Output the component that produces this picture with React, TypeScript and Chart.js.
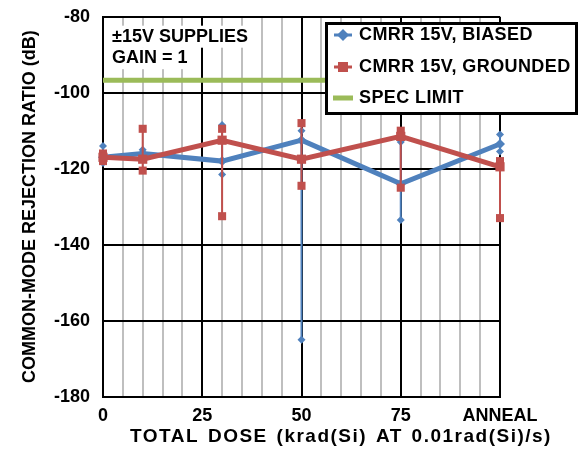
import React, { useEffect, useRef } from "react";
import { Chart, registerables } from "chart.js";

Chart.register(...registerables);

const DOSE = [0, 10, 30, 50, 75, 100];
const X_TICK_LABELS: Record<number, string> = { 0: "0", 25: "25", 50: "50", 75: "75", 100: "ANNEAL" };

const BIASED_MEAN = [-117, -116, -118, -112.5, -124, -113.5];
const BIASED_MAX = [-114, -115, -108.5, -110, -113, -111];
const BIASED_MIN = [-118.5, -117.5, -121.5, -165, -133.5, -115.5];

const GROUNDED_MEAN = [-117, -117.5, -112.5, -117.5, -111.5, -119.5];
const GROUNDED_MAX = [-116, -109.5, -109.5, -108, -110, -118];
const GROUNDED_MIN = [-118, -120.5, -132.5, -124.5, -125, -133];

const SPEC_LIMIT = -96.7;

const SERIES_NAMES = ["CMRR 15V, BIASED", "CMRR 15V, GROUNDED", "SPEC LIMIT"];
const NOTE_LINES = ["±15V SUPPLIES", "GAIN = 1"];
const X_TITLE = "TOTAL DOSE (krad(Si) AT 0.01rad(Si)/s)";
const Y_TITLE = "COMMON-MODE REJECTION RATIO (dB)";

const BLUE = "#4F81BD";
const RED = "#C0504D";
const GREEN = "#9BBB59";
const FONT = "bold 18px 'Liberation Sans', Arial, sans-serif";

function errorBars(mins: number[], maxs: number[]) {
  const pts: { x: number; y: number | null }[] = [];
  DOSE.forEach((x, i) => {
    pts.push({ x, y: maxs[i] }, { x, y: mins[i] });
    if (i < DOSE.length - 1) pts.push({ x, y: null });
  });
  return pts;
}

const overlayPlugin = {
  id: "overlay",
  afterDraw(chart: any) {
    const ctx = chart.ctx as CanvasRenderingContext2D;
    const area = chart.chartArea;
    ctx.save();
    ctx.font = FONT;
    ctx.textBaseline = "middle";
    ctx.textAlign = "left";

    // note text with white background
    const noteX = area.left + 9;
    const noteYs = [area.top + 20, area.top + 41.5];
    NOTE_LINES.forEach((t, i) => {
      const w = ctx.measureText(t).width;
      ctx.fillStyle = "#fff";
      ctx.fillRect(noteX - 3, noteYs[i] - 11, w + 6, 22);
    });
    ctx.fillStyle = "#000";
    NOTE_LINES.forEach((t, i) => ctx.fillText(t, noteX, noteYs[i]));

    // x axis title
    ctx.save();
    ctx.font = "bold 19px 'Liberation Sans', Arial, sans-serif";
    (ctx as any).letterSpacing = "1.5px";
    (ctx as any).wordSpacing = "2px";
    ctx.textAlign = "center";
    ctx.fillText(X_TITLE, 341, 437);
    ctx.restore();

    // legend
    const lx = 325, ly = 22, lw = 253, lh = 93;
    ctx.fillStyle = "#fff";
    ctx.fillRect(lx, ly, lw, lh);
    ctx.strokeStyle = "#000";
    ctx.lineWidth = 3;
    ctx.strokeRect(lx + 1.5, ly + 1.5, lw - 3, lh - 3);
    const rows = [35, 67, 98];
    const sx = 343;
    // blue
    ctx.strokeStyle = BLUE;
    ctx.lineWidth = 3;
    ctx.beginPath();
    ctx.moveTo(sx - 9, rows[0]);
    ctx.lineTo(sx + 9, rows[0]);
    ctx.stroke();
    ctx.fillStyle = BLUE;
    ctx.beginPath();
    ctx.moveTo(sx, rows[0] - 6);
    ctx.lineTo(sx + 6, rows[0]);
    ctx.lineTo(sx, rows[0] + 6);
    ctx.lineTo(sx - 6, rows[0]);
    ctx.closePath();
    ctx.fill();
    // red
    ctx.strokeStyle = RED;
    ctx.beginPath();
    ctx.moveTo(sx - 9, rows[1]);
    ctx.lineTo(sx + 9, rows[1]);
    ctx.stroke();
    ctx.fillStyle = RED;
    ctx.fillRect(sx - 5, rows[1] - 5, 10, 10);
    // green
    ctx.fillStyle = GREEN;
    ctx.fillRect(sx - 10, rows[2] - 2.5, 20, 5);

    ctx.fillStyle = "#000";
    ctx.textAlign = "left";
    (ctx as any).letterSpacing = "0.4px";
    SERIES_NAMES.forEach((t, i) => ctx.fillText(t, 359, rows[i]));
    ctx.restore();
  },
};

export default function App() {
  const ref = useRef<HTMLCanvasElement>(null);

  useEffect(() => {
    if (!ref.current) return;
    Chart.defaults.font.family = "'Liberation Sans', Arial, sans-serif";
    const chart = new Chart(ref.current, {
      type: "line",
      data: {
        datasets: [
          {
            label: SERIES_NAMES[2],
            data: [
              { x: 0, y: SPEC_LIMIT },
              { x: 100, y: SPEC_LIMIT },
            ],
            borderColor: GREEN,
            borderWidth: 5,
            pointRadius: 0,
            order: 5,
          },
          {
            label: "biased error",
            data: errorBars(BIASED_MIN, BIASED_MAX),
            borderColor: BLUE,
            backgroundColor: BLUE,
            borderWidth: 2,
            pointStyle: "rectRot",
            pointRadius: 4,
            pointBorderWidth: 0,
            spanGaps: false,
            order: 4,
            clip: false,
          },
          {
            label: SERIES_NAMES[0],
            data: DOSE.map((x, i) => ({ x, y: BIASED_MEAN[i] })),
            borderColor: BLUE,
            backgroundColor: BLUE,
            borderWidth: 5,
            pointStyle: "rectRot",
            pointRadius: 5,
            pointBorderWidth: 0,
            order: 3,
            clip: false,
          },
          {
            label: "grounded error",
            data: errorBars(GROUNDED_MIN, GROUNDED_MAX),
            borderColor: RED,
            backgroundColor: RED,
            borderWidth: 2,
            pointStyle: "rect",
            pointRadius: 5.7,
            pointBorderWidth: 0,
            spanGaps: false,
            order: 2,
            clip: false,
          },
          {
            label: SERIES_NAMES[1],
            data: DOSE.map((x, i) => ({ x, y: GROUNDED_MEAN[i] })),
            borderColor: RED,
            backgroundColor: RED,
            borderWidth: 5,
            pointStyle: "rect",
            pointRadius: 6.5,
            pointBorderWidth: 0,
            order: 1,
            clip: false,
          },
        ],
      },
      options: {
        responsive: false,
        animation: false,
        layout: { padding: { left: 19, top: 16.7, right: 78, bottom: 0 } },
        plugins: {
          legend: { display: false },
          tooltip: { enabled: false },
        },
        elements: { line: { tension: 0 } },
        scales: {
          x: {
            type: "linear",
            min: 0,
            max: 100,
            afterFit: (s: any) => {
              s.height = 65.3;
            },
            ticks: {
              stepSize: 5,
              autoSkip: false,
              maxRotation: 0,
              padding: 9,
              color: "#000",
              font: { size: 18, weight: "bold" },
              callback: (v: any) => X_TICK_LABELS[Number(v)] ?? "",
            },
            grid: {
              drawTicks: false,
              lineWidth: 2,
              color: (c: any) => (c.tick && c.tick.value % 25 === 0 ? "#000" : "#BFBFBF"),
            },
            border: { color: "#000", width: 2 },
          },
          y: {
            min: -180,
            max: -80,
            afterFit: (s: any) => {
              s.width = 84;
            },
            ticks: {
              stepSize: 20,
              padding: 0,
              color: "#000",
              font: { size: 18, weight: "bold" },
            },
            grid: {
              drawTicks: true,
              tickLength: 13,
              tickColor: "rgba(0,0,0,0)",
              lineWidth: 2,
              color: "#000",
            },
            border: { color: "#000", width: 2 },
            title: {
              display: true,
              text: Y_TITLE,
              color: "#000",
              padding: 0,
              font: { size: 18, weight: "bold" },
            },
          },
        },
      },
      plugins: [overlayPlugin],
    } as any);
    return () => chart.destroy();
  }, []);

  return (
    <div style={{ position: "absolute", left: 0, top: 0, width: 578, height: 462, background: "#fff" }}>
      <canvas ref={ref} width={578} height={462} style={{ display: "block" }} />
    </div>
  );
}
